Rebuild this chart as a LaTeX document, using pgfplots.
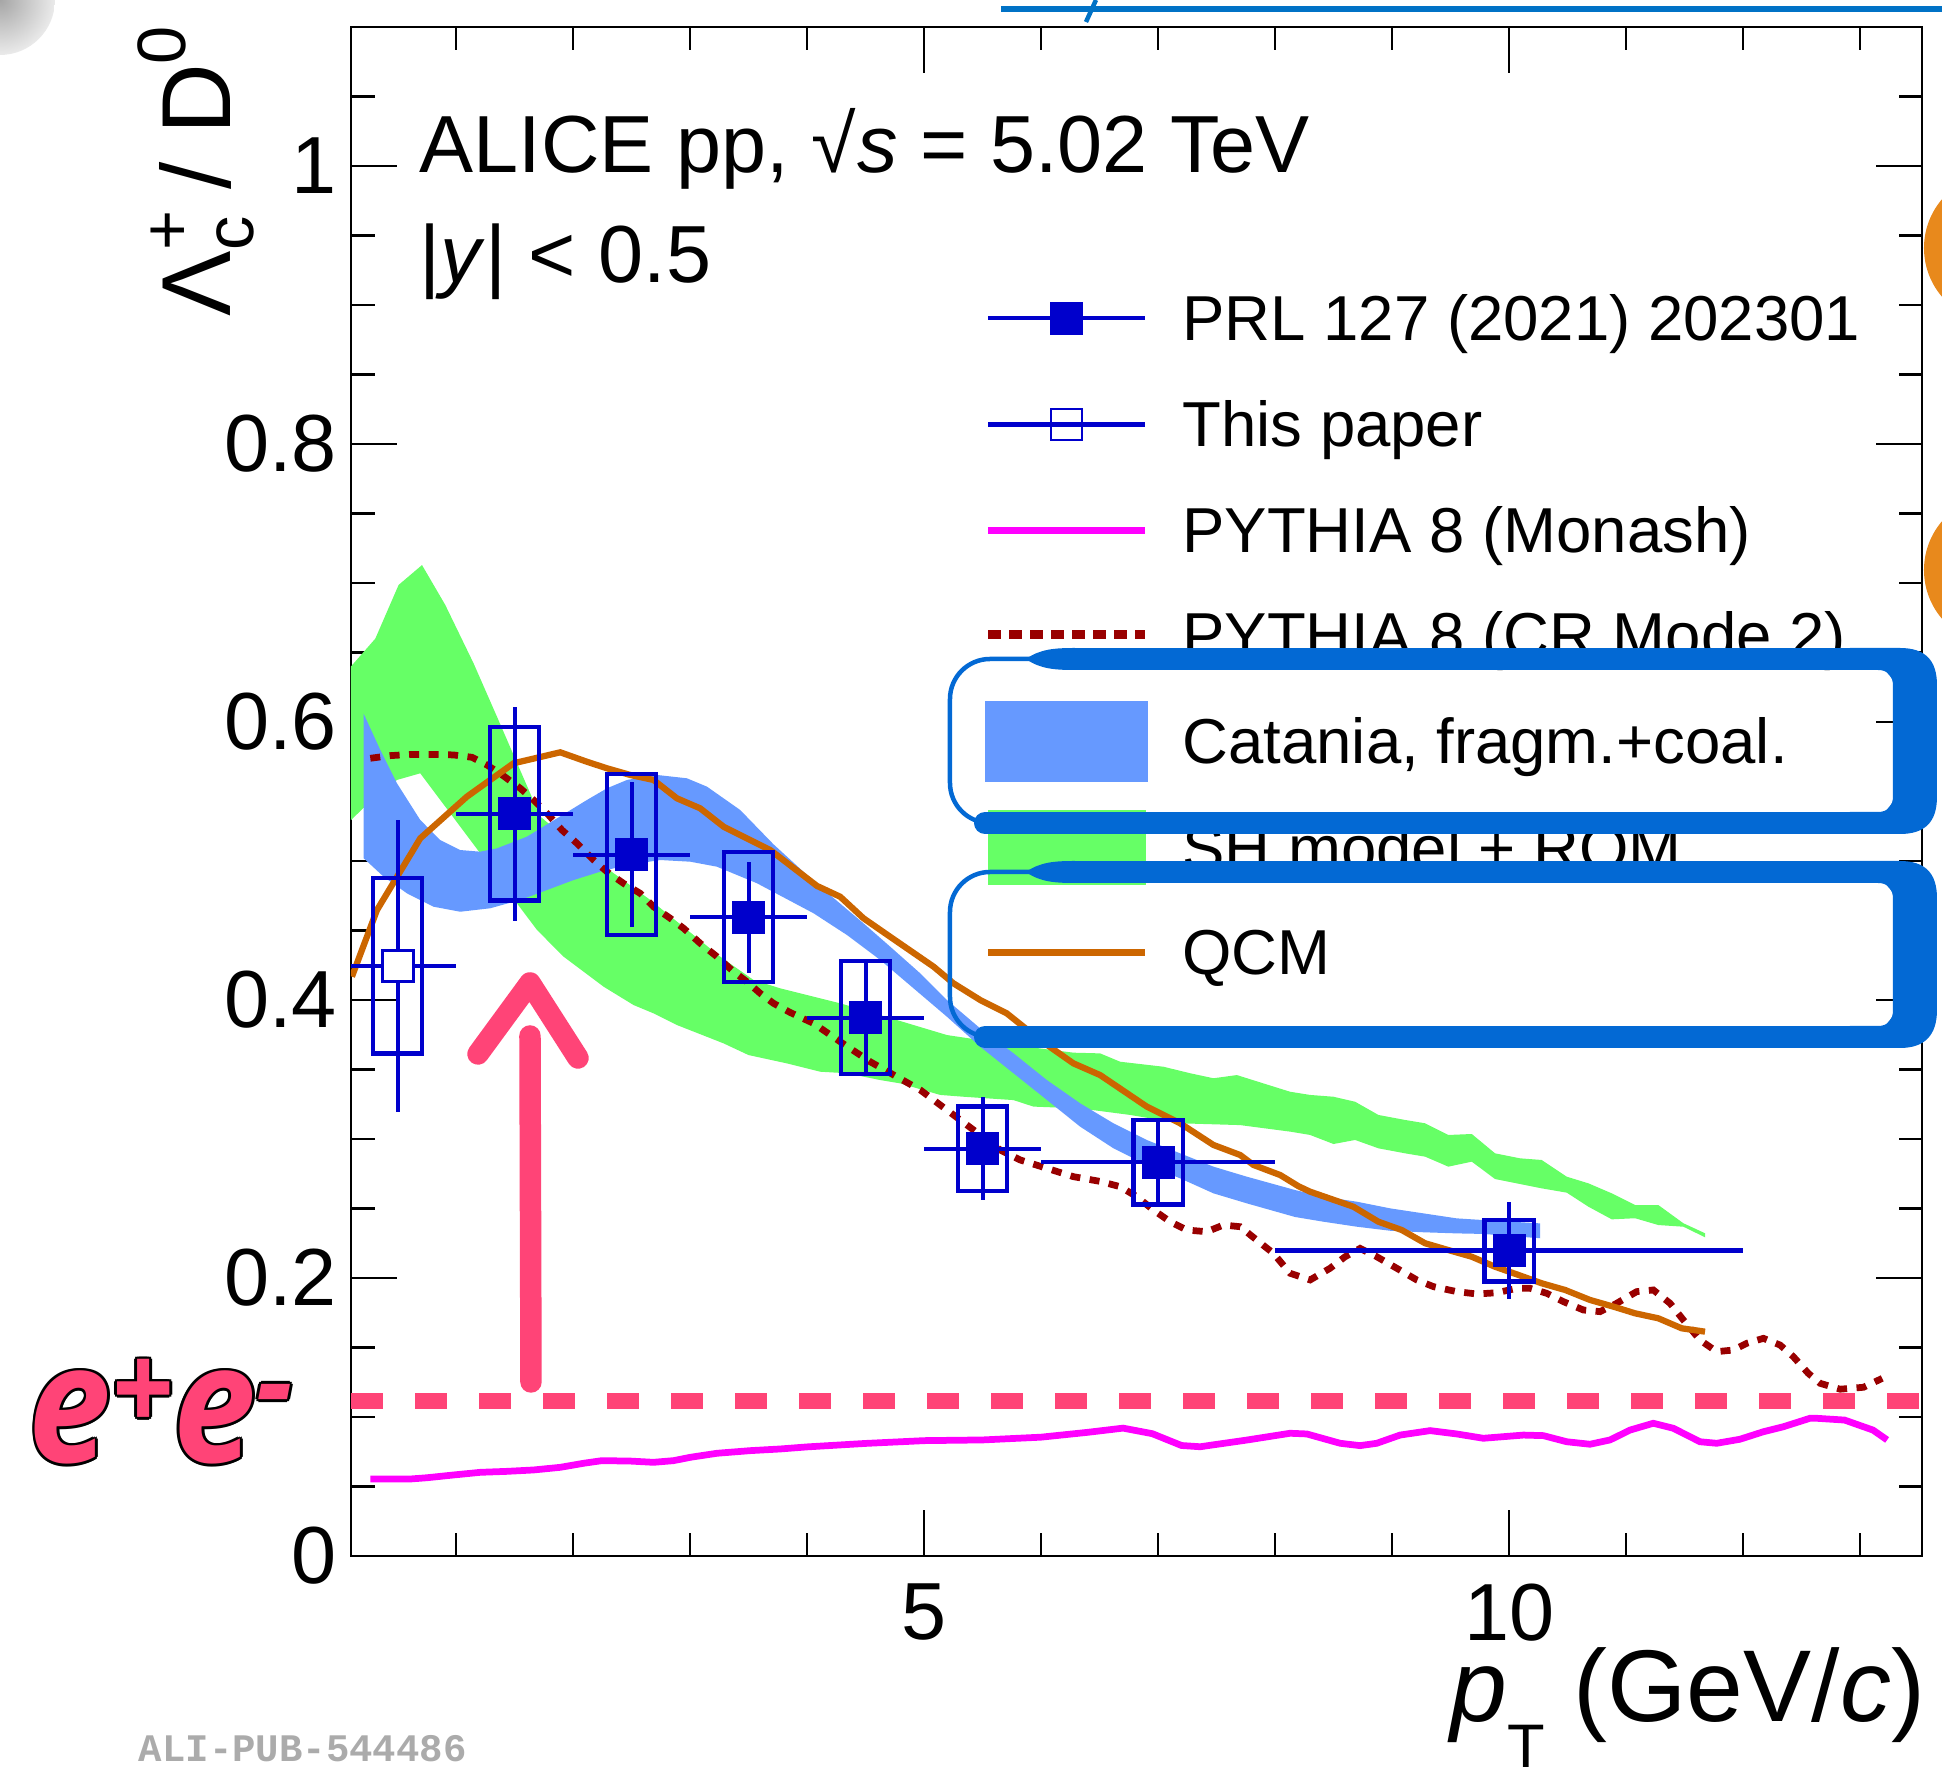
\documentclass[border=0pt]{standalone}
\usepackage{pgfplots}
\pgfplotsset{compat=1.18}
\usepackage{graphicx}
\usepackage{fontspec}
\setmainfont{Liberation Sans}
\newfontfamily\eefont{Open Sans}
\newfontfamily\idfont{Liberation Mono}
\definecolor{dblue}{RGB}{0,0,204}
\definecolor{cblue}{RGB}{102,153,255}
\definecolor{sgreen}{RGB}{102,255,102}
\definecolor{qorange}{RGB}{204,102,0}
\definecolor{cred}{RGB}{153,0,0}
\definecolor{mmag}{RGB}{255,0,255}
\definecolor{pinkc}{RGB}{255,68,119}
\definecolor{hblue}{RGB}{3,105,212}
\definecolor{topblue}{RGB}{0,114,198}
\definecolor{orcirc}{RGB}{232,137,28}
\newcommand\legfont{\fontsize{12.7}{14}\selectfont}
\newcommand\eeinner{\eefont\bfseries\itshape\fontsize{33}{33}\selectfont e\raisebox{6pt}{\fontsize{25}{25}\selectfont +}e\raisebox{7.5pt}{\fontsize{25}{25}\selectfont -}}
\begin{document}
\begin{tikzpicture}
\begin{axis}[
  scale only axis, width=314.2pt, height=305.8pt,
  at={(0pt,0pt)}, anchor=south west,
  xmin=0.1, xmax=13.53, ymin=0, ymax=1.1,
  xtick={5,10}, minor xtick={1,2,3,4,6,7,8,9,11,12,13},
  ytick={0,0.2,0.4,0.6,0.8,1},
  minor ytick={0.05,0.1,0.15,0.25,0.3,0.35,0.45,0.5,0.55,0.65,0.7,0.75,0.85,0.9,0.95,1.05},
  tick align=inside,
  major tick length=9.2pt, minor tick length=4.7pt,
  axis line style={line width=0.55pt},
  every tick/.style={black, line width=0.45pt},
  tick label style={font=\fontsize{16.2}{17}\selectfont},
  /pgf/number format/assume math mode=true,
  yticklabel style={inner sep=0pt, xshift=-2.6pt},
  xticklabel style={inner sep=0pt, yshift=-5.4pt},
]
% SH model + RQM band
\addplot[fill=sgreen, draw=none] coordinates {
(0.1,0.640) (0.308,0.660) (0.507,0.6986) (0.707,0.7129) (0.906,0.6842) (1.148,0.6422) (1.348,0.6038) (1.718,0.532) (2.0,0.512) (2.3,0.494) (2.658,0.472) (3.256,0.4312) (3.541,0.4144) (3.769,0.4084) (4.282,0.3976) (4.481,0.3928) (5.194,0.3748) (5.763,0.3676) (6.276,0.3621) (6.504,0.3616) (6.675,0.3556) (7.045,0.352) (7.274,0.3473) (7.473,0.3437) (7.673,0.346) (7.90,0.340) (8.128,0.334) (8.299,0.3317) (8.499,0.3304) (8.684,0.3268) (8.883,0.3173) (9.111,0.3137) (9.282,0.3113) (9.481,0.3029) (9.681,0.3036) (9.88,0.2897) (10.094,0.2861) (10.279,0.2849) (10.493,0.2729) (10.678,0.2681) (10.878,0.2609) (11.077,0.2525) (11.276,0.2525) (11.49,0.2394) (11.675,0.2322)
(11.675,0.2293) (11.49,0.2369) (11.276,0.2381) (11.077,0.243) (10.878,0.2422) (10.678,0.2513) (10.493,0.2614) (10.279,0.2645) (10.094,0.2676) (9.88,0.2712) (9.681,0.2837) (9.481,0.2801) (9.282,0.2873) (9.111,0.2897) (8.883,0.2933) (8.684,0.2993) (8.499,0.2964) (8.299,0.3029) (8.128,0.3053) (7.701,0.310) (7.188,0.3113) (6.761,0.3173) (6.333,0.322) (5.934,0.3233) (5.763,0.328) (5.336,0.3304) (5.137,0.3317) (4.795,0.340) (4.624,0.3424) (4.339,0.3473) (4.111,0.3484) (3.826,0.3544) (3.498,0.3604) (3.285,0.3688) (2.886,0.382) (2.686,0.3904) (2.515,0.3964) (2.259,0.4096) (1.917,0.4312) (1.69,0.4504) (1.519,0.4695) (1.205,0.5055) (0.949,0.5343) (0.692,0.5631) (0.493,0.5583) (0.308,0.5463) (0.1,0.5295)
};
% Catania band
\addplot[fill=cblue, draw=none] coordinates {
(0.208,0.606) (0.350,0.5799) (0.493,0.5559) (0.692,0.5295) (0.863,0.5151) (1.034,0.5079) (1.205,0.5067) (1.348,0.5091) (1.604,0.5175) (1.861,0.5307) (2.117,0.5439) (2.288,0.5523) (2.459,0.5583) (2.715,0.5619) (2.972,0.5595) (3.143,0.5535) (3.427,0.5367) (3.712,0.5120) (3.997,0.490) (4.111,0.4815) (4.481,0.4552) (4.709,0.4384) (4.966,0.4192) (5.194,0.40) (5.479,0.3796) (5.763,0.3617) (6.049,0.3424) (6.333,0.3257) (6.618,0.3113) (6.903,0.2993) (7.188,0.2897) (7.473,0.2801) (7.758,0.2729) (8.17,0.2633) (8.413,0.2585) (8.698,0.2549) (8.983,0.2501) (9.268,0.2465) (9.553,0.2429) (9.78,0.2417) (10.265,0.2393)
(10.265,0.2286) (9.78,0.2317) (9.553,0.2321) (9.268,0.2329) (8.983,0.234) (8.698,0.2369) (8.413,0.2405) (8.17,0.2439) (7.758,0.2537) (7.473,0.2609) (7.188,0.2717) (6.903,0.2813) (6.618,0.2933) (6.333,0.3089) (6.049,0.3281) (5.763,0.3473) (5.479,0.3664) (5.194,0.388) (4.909,0.4084) (4.624,0.4288) (4.339,0.4468) (4.054,0.4624) (3.57,0.484) (3.228,0.4959) (3.0,0.4995) (2.744,0.5007) (2.459,0.4971) (2.231,0.4923) (2.003,0.4863) (1.775,0.4791) (1.547,0.472) (1.291,0.466) (1.034,0.4635) (0.806,0.4671) (0.579,0.4767) (0.379,0.4887) (0.208,0.502)
};
% PYTHIA Monash
\addplot[mmag, line width=1.35pt] coordinates {
(0.265,0.0554) (0.607,0.0554) (0.749,0.0563) (0.977,0.0583) (1.205,0.0602) (1.433,0.0609) (1.661,0.0619) (1.889,0.0638) (2.088,0.0667) (2.245,0.0686) (2.487,0.0683) (2.686,0.0674) (2.857,0.0686) (3.0,0.071) (3.228,0.0739) (3.513,0.0758) (3.769,0.077) (4.0,0.0785) (4.5,0.081) (5.0,0.083) (5.5,0.0835) (6.0,0.0855) (6.4,0.089) (6.7,0.092) (6.95,0.088) (7.2,0.0795) (7.359,0.0786) (7.764,0.0835) (8.128,0.0883) (8.271,0.0878) (8.556,0.0811) (8.726,0.0794) (8.869,0.0811) (9.068,0.087) (9.325,0.0902) (9.553,0.0878) (9.78,0.0847) (10.122,0.087) (10.293,0.0866) (10.493,0.0822) (10.692,0.0804) (10.863,0.0835) (11.034,0.0906) (11.233,0.0955) (11.404,0.0919) (11.632,0.0822) (11.775,0.0811) (11.974,0.084) (12.174,0.0894) (12.345,0.093) (12.573,0.0991) (12.625,0.0991) (12.868,0.0978) (13.111,0.0906) (13.232,0.0835)
};
% PYTHIA CR mode 2
\addplot[cred, line width=1.35pt, dash pattern=on 2pt off 1.9pt] coordinates {
(0.265,0.5739) (0.436,0.5758) (0.607,0.5767) (0.806,0.5767) (0.977,0.5763) (1.134,0.5746) (1.262,0.5691) (1.404,0.5612) (1.547,0.5523) (1.661,0.5439) (1.789,0.5331) (1.903,0.5223) (2.032,0.5127) (2.174,0.5007) (2.288,0.4923) (2.43,0.4839) (2.573,0.4767) (2.686,0.4671) (2.829,0.4588) (2.943,0.4516) (3.085,0.4408) (3.228,0.4312) (3.37,0.4204) (3.484,0.4132) (3.598,0.4048) (3.712,0.3976) (3.855,0.3910) (4.054,0.3832) (4.282,0.370) (4.538,0.3556) (4.766,0.3448) (4.966,0.3353) (5.137,0.3245) (5.308,0.3137) (5.479,0.3029) (5.65,0.2921) (5.821,0.2849) (6.049,0.2789) (6.276,0.2729) (6.504,0.2695) (6.675,0.2657) (6.818,0.2585) (6.96,0.2489) (7.103,0.2405) (7.245,0.2345) (7.416,0.2333) (7.558,0.2381) (7.701,0.2369) (7.843,0.2273) (7.986,0.2177) (8.128,0.2034) (8.299,0.1986) (8.47,0.207) (8.598,0.2153) (8.726,0.2213) (8.869,0.2153) (9.04,0.207) (9.211,0.1986) (9.353,0.1938) (9.553,0.1902) (9.724,0.1885) (9.895,0.1894) (10.066,0.1926) (10.179,0.1926) (10.322,0.189) (10.464,0.183) (10.635,0.177) (10.778,0.1758) (10.92,0.1818) (11.091,0.1902) (11.233,0.1914) (11.376,0.1818) (11.49,0.1698) (11.632,0.1554) (11.775,0.147) (11.917,0.1482) (12.031,0.153) (12.174,0.1566) (12.316,0.1518) (12.43,0.1434) (12.558,0.1314) (12.66,0.1242) (12.83,0.12) (13.03,0.1214) (13.19,0.1278)
};
% QCM
\addplot[qorange, line width=1.25pt] coordinates {
(0.108,0.4168) (0.322,0.4647) (0.692,0.5163) (1.091,0.5463) (1.490,0.5703) (1.889,0.5782) (2.117,0.5714) (2.288,0.5667) (2.487,0.5619) (2.686,0.5583) (2.886,0.5451) (3.085,0.5379) (3.285,0.5247) (3.684,0.5079) (4.083,0.4821) (4.282,0.4743) (4.481,0.4588) (4.709,0.4455) (5.080,0.424) (5.25,0.412) (5.479,0.40) (5.706,0.3904) (5.991,0.3712) (6.276,0.3544) (6.504,0.346) (6.903,0.3233) (7.188,0.3113) (7.473,0.2957) (7.701,0.2885) (7.815,0.2813) (8.043,0.2741) (8.2,0.266) (8.299,0.2621) (8.669,0.2513) (8.883,0.2405) (9.083,0.2345) (9.282,0.225) (9.481,0.2201) (9.681,0.2153) (9.88,0.2081) (10.08,0.2022) (10.279,0.1962) (10.479,0.1914) (10.692,0.1842) (10.892,0.1794) (11.077,0.1746) (11.276,0.171) (11.476,0.1638) (11.675,0.1614)
};
% systematic boxes
\addplot[dblue, line width=0.85pt, line cap=rect, unbounded coords=jump] coordinates {
(0.29,0.3616) (0.71,0.3616) (0.71,0.4876) (0.29,0.4876) (0.29,0.3616) (0.5,nan)
(1.29,0.4715) (1.71,0.4715) (1.71,0.5965) (1.29,0.5965) (1.29,0.4715) (1.5,nan)
(2.29,0.4465) (2.71,0.4465) (2.71,0.5625) (2.29,0.5625) (2.29,0.4465) (2.5,nan)
(3.29,0.4129) (3.71,0.4129) (3.71,0.5063) (3.29,0.5063) (3.29,0.4129) (3.5,nan)
(4.29,0.3466) (4.71,0.3466) (4.71,0.4280) (4.29,0.4280) (4.29,0.3466) (4.5,nan)
(5.29,0.2627) (5.71,0.2627) (5.71,0.3233) (5.29,0.3233) (5.29,0.2627) (5.5,nan)
(6.79,0.2528) (7.21,0.2528) (7.21,0.3136) (6.79,0.3136) (6.79,0.2528) (7.0,nan)
(9.79,0.1975) (10.21,0.1975) (10.21,0.2419) (9.79,0.2419) (9.79,0.1975)
};
% This paper
\addplot[dblue, only marks, mark=square*, mark size=3.1pt, mark options={fill=white, draw=dblue, line width=0.5pt},
  error bars/.cd, x dir=both, x explicit, y dir=both, y explicit, error mark=none,
  error bar style={line width=0.85pt, dblue}] coordinates {
(0.5,0.4246) +- (0.5,0.105)
};
% PRL 127 (2021) 202301
\addplot[dblue, only marks, mark=square*, mark size=3.1pt, mark options={fill=dblue, draw=dblue, line width=0.4pt},
  error bars/.cd, x dir=both, x explicit, y dir=both, y explicit, error mark=none,
  error bar style={line width=0.85pt, dblue}] coordinates {
(1.5,0.534) +- (0.5,0.077)
(2.5,0.5045) +- (0.5,0.052)
(3.5,0.4596) +- (0.5,0.040)
(4.5,0.3873) +- (0.5,0.040)
(5.5,0.293) +- (0.5,0.037)
(7.0,0.2832) +- (1.0,0.030)
(10.0,0.2197) +- (2.0,0.0347)
};
% legend samples
\addplot[dblue, line width=0.9pt] coordinates {(5.547,0.8905) (6.885,0.8905)};
\addplot[dblue, only marks, mark=square*, mark size=3.1pt, mark options={fill=dblue, line width=0.4pt}] coordinates {(6.216,0.8905)};
\addplot[dblue, line width=0.9pt] coordinates {(5.547,0.8142) (6.885,0.8142)};
\addplot[dblue, only marks, mark=square, mark size=3.1pt, mark options={line width=0.5pt}] coordinates {(6.216,0.8142)};
\addplot[mmag, line width=1.4pt] coordinates {(5.547,0.738) (6.885,0.738)};
\addplot[cred, line width=1.8pt, dash pattern=on 2.6pt off 1.6pt] coordinates {(5.547,0.6626) (6.885,0.6626)};
\addplot[fill=cblue, draw=none] coordinates {(5.519,0.6153) (6.912,0.6153) (6.912,0.5571) (5.519,0.5571)};
\addplot[fill=sgreen, draw=none] coordinates {(5.547,0.5367) (6.897,0.5367) (6.897,0.4827) (5.547,0.4827)};
\addplot[qorange, line width=1.5pt] coordinates {(5.547,0.4343) (6.885,0.4343)};
% e+e- reference line
\addplot[pinkc, line width=3.2pt, dash pattern=on 6.4pt off 6.4pt] coordinates {(0.1,0.1117) (13.53,0.1117)};
\end{axis}
\begin{scope}[x=0.2pt, y=-0.2pt, shift={(-70.2pt,311.2pt)}]
% legend texts
\node[anchor=base west, inner sep=0pt, font=\legfont] at (1181.5,341) {PRL 127 (2021) 202301};
\node[anchor=base west, inner sep=0pt, font=\legfont] at (1181.5,447) {This paper};
\node[anchor=base west, inner sep=0pt, font=\legfont] at (1181.5,552.7) {PYTHIA 8 (Monash)};
\node[anchor=base west, inner sep=0pt, font=\legfont] at (1181.5,657.7) {PYTHIA 8 (CR Mode 2)};
\node[anchor=base west, inner sep=0pt, font=\legfont] at (1181.5,763.7) {Catania, fragm.+coal.};
\node[anchor=base west, inner sep=0pt, font=\legfont] at (1181.5,870.2) {SH model + RQM};
\node[anchor=base west, inner sep=0pt, font=\legfont] at (1181.5,975) {QCM};
% header text
\node[anchor=base west, inner sep=0pt, font=\fontsize{16.2}{17}\selectfont] at (418.6,173) {ALICE pp, √\kern0.02em\textit{s} = 5.02 TeV};
\node[anchor=base west, inner sep=0pt, font=\fontsize{16.2}{17}\selectfont] at (418.6,282.4) {|\textit{y}| < 0.5};
% axis titles
\node[rotate=90, anchor=base east, inner sep=0pt, font=\fontsize{19.6}{20}\selectfont] at (231,25) {Λ\rlap{\raisebox{8pt}{\fontsize{13.7}{14}\selectfont +}}\raisebox{-4.5pt}{\fontsize{13.7}{14}\selectfont c} / D\raisebox{9pt}{\fontsize{13.7}{14}\selectfont 0}};
\node[anchor=base east, inner sep=0pt, font=\fontsize{20.4}{21}\selectfont] at (1926,1721.7) {\textit{p}\raisebox{-9.2pt}{\fontsize{12.3}{12}\selectfont T} (GeV/\textit{c})};
% ALI-PUB id
\node[anchor=base west, inner sep=0pt, font=\idfont\bfseries\fontsize{7.8}{9}\selectfont, text=black!33] at (138,1762) {ALI-PUB-544486};
% highlight boxes
\draw[hblue, line width=0.9pt, rounded corners=8pt] (950,659) rectangle (1900,823);
\draw[hblue, line width=4.4pt] (1070,659) -- (1860,659);
\draw[hblue, line width=4.4pt, line cap=round] (1860,823) -- (985,823);
\fill[hblue] (1850,648) -- (1900,648) .. controls (1925,648) and (1937,660) .. (1937,685) -- (1937,797) .. controls (1937,822) and (1925,834) .. (1900,834) -- (1850,834) -- (1850,812) -- (1878,812) .. controls (1888,812) and (1893,806) .. (1893,796) -- (1893,686) .. controls (1893,676) and (1888,670) .. (1878,670) -- (1850,670) -- cycle;
\fill[hblue] (1026,659) .. controls (1040,649) and (1055,648) .. (1075,648) -- (1075,670) .. controls (1055,670) and (1040,669) .. (1026,659) -- cycle;
\draw[hblue, line width=0.9pt, rounded corners=8pt] (950,872) rectangle (1900,1037);
\draw[hblue, line width=4.4pt] (1070,872) -- (1860,872);
\draw[hblue, line width=4.4pt, line cap=round] (1860,1037) -- (985,1037);
\fill[hblue] (1850,861) -- (1900,861) .. controls (1925,861) and (1937,873) .. (1937,898) -- (1937,1010) .. controls (1937,1035) and (1925,1048) .. (1900,1048) -- (1850,1048) -- (1850,1026) -- (1878,1026) .. controls (1888,1026) and (1893,1020) .. (1893,1010) -- (1893,899) .. controls (1893,889) and (1888,883) .. (1878,883) -- (1850,883) -- cycle;
\fill[hblue] (1026,872) .. controls (1040,862) and (1055,861) .. (1075,861) -- (1075,883) .. controls (1055,883) and (1040,882) .. (1026,872) -- cycle;
% pink arrow
\draw[pinkc, line width=4.3pt, line cap=round] (531,1382) -- (530,1036);
\draw[pinkc, line width=4.3pt, line cap=round, line join=round] (478,1054) -- (530,983) -- (578,1058);
% e+e- label
\foreach \dx/\dy in {0.55/0,-0.55/0,0/0.55,0/-0.55,0.4/0.4,-0.4/0.4,0.4/-0.4,-0.4/-0.4} {
  \node[anchor=base west, inner sep=0pt, text=black, xshift=\dx pt, yshift=\dy pt] at (28,1463) {\scalebox{0.9}[1]{\eeinner}};
}
\node[anchor=base west, inner sep=0pt, text=pinkc] at (28,1463) {\scalebox{0.9}[1]{\eeinner}};
% slide decorations
\shade[inner color=black!35, outer color=black!8] (0,0) circle (55);
\draw[topblue, line width=1.2pt] (1001,9) -- (1942,9);
\draw[topblue, line width=0.9pt] (1096,0) -- (1086,22);
\fill[orcirc] (1999,248) circle (75);
\fill[orcirc] (1999,570) circle (75);
\end{scope}
\pgfresetboundingbox
\path[use as bounding box] (-70.2pt,-42.8pt) rectangle (318.2pt,311.2pt);
\end{tikzpicture}
\end{document}
